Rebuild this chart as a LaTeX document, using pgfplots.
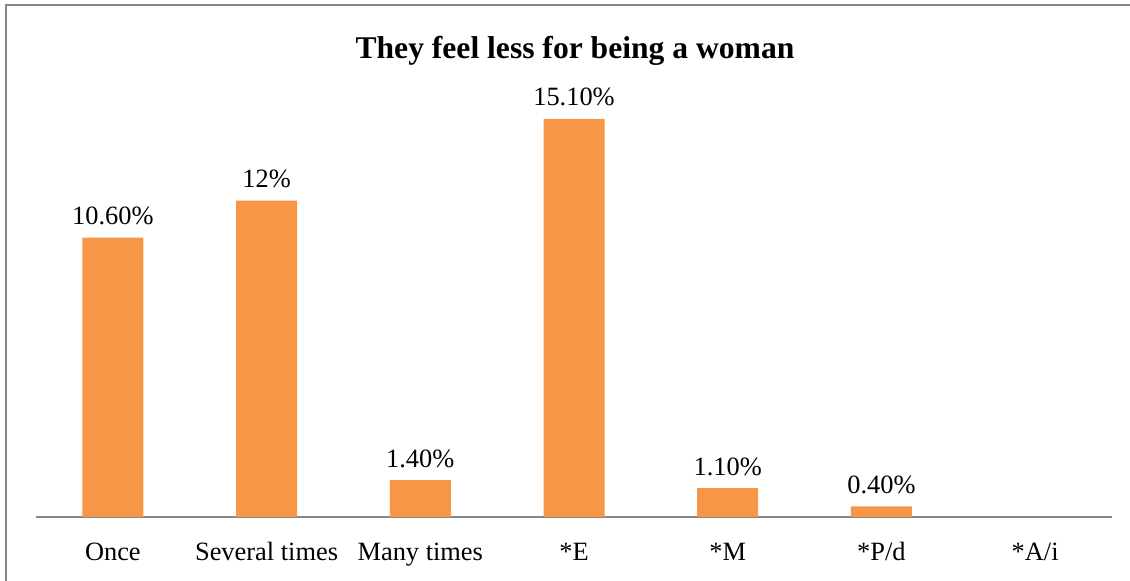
\documentclass[border=0pt]{standalone}
\usepackage{pgfplots}
\pgfplotsset{compat=1.18}
\usepackage{pgfplotstable}
\usepackage{fontspec}
\setmainfont{Liberation Serif}
\definecolor{barorange}{HTML}{F79646}
\definecolor{axgray}{HTML}{868686}
\pgfplotstableread{
x y lab
0 10.6 10.60\%
1 12.0 12\%
2 1.4 1.40\%
3 15.1 15.10\%
4 1.1 1.10\%
5 0.4 0.40\%
}\datatable
\begin{document}
\begin{tikzpicture}
\clip (-18pt,-31.5pt) rectangle (547pt,258.5pt);
\useasboundingbox (-18pt,-31.5pt) rectangle (547pt,258.5pt);
\draw[axgray, line width=1pt] (-15pt,-40pt) -- (-15pt,256pt) -- (560pt,256pt);
\begin{axis}[
  at={(0pt,0pt)}, anchor=south west,
  scale only axis,
  width=538pt, height=210.9pt,
  xmin=-0.5, xmax=6.5, ymin=0, ymax=16,
  axis y line=none,
  axis x line*=bottom,
  x axis line style={-, draw=axgray, line width=0.6pt},
  xtick={0,1,2,3,4,5,6},
  xticklabels={Once, Several times, Many times, *E, *M, *P/d, *A/i},
  xtick style={draw=none},
  xticklabel style={anchor=base, yshift=-17.5pt, font=\fontsize{13.2}{15}\selectfont},
  ybar, bar width=30.5pt,
  nodes near coords=\pgfplotspointmeta,
  point meta=explicit symbolic,
  every node near coord/.append style={anchor=base, yshift=0pt, font=\fontsize{13.2}{15}\selectfont, text=black},
  clip=false,
]
\addplot[fill=barorange, draw=none, nodes near coords style={yshift=6.5pt}] table[x=x, y=y, meta=lab] {\datatable};
\end{axis}
\node[font=\bfseries\fontsize{15.8}{18}\selectfont, anchor=center] at (269.5pt,233pt) {They feel less for being a woman};
\end{tikzpicture}
\end{document}
